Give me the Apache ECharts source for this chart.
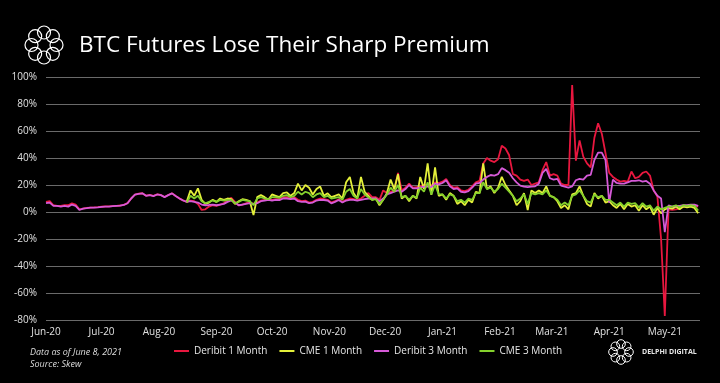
<!DOCTYPE html>
<html><head><meta charset="utf-8">
<script src="https://cdn.jsdelivr.net/npm/echarts@6/dist/echarts.min.js"></script>
<style>html,body{margin:0;padding:0;background:#000;}#c{width:720px;height:383px;}</style>
</head><body><div id="c"></div>
<script>
// x: one sample every 2 days starting 1 Jun 2020
const startYear = 2020, startMonth = 5, startDay = 1, stepDays = 2;
const endDayOffset = 353;
const cmeStartIndex = 38; // CME series begin at the 39th sample
const monthNames = ['Jan','Feb','Mar','Apr','May','Jun','Jul','Aug','Sep','Oct','Nov','Dec'];
const seriesNames = ['Deribit 1 Month','CME 1 Month','Deribit 3 Month','CME 3 Month'];
const yMin = -80, yMax = 100, yStep = 20;

const deribit1m = [
 7.5, 8, 5, 4.5, 4.5, 5, 5, 6.5, 5.5, 2,
 2.5, 3, 3.3, 3.4, 3.6, 3.9, 4.1, 4.1, 4.4, 4.6,
 4.8, 5.3, 6.6, 10.1, 12.9, 13.6, 13.9, 12.1, 12.6, 11.9,
 13.1, 12.6, 11.1, 12.6, 13.9, 11.9, 10.1, 8.6, 7.5, 8.5,
 8, 6, 1.5, 2, 4, 5, 4.5, 5.5, 6.5, 9,
 10.5, 7.5, 5, 5.5, 6.5, 7, 6, 7, 8.5, 9,
 9.5, 9, 9.5, 9.5, 11, 11, 10, 11, 9, 8,
 8.5, 7, 7.5, 9, 10, 9.5, 9, 7, 8, 9.5,
 7.5, 9, 10, 9.5, 9, 10, 12, 14, 11, 11,
 9, 16, 14, 15, 16, 29, 16, 18, 21, 18,
 18.5, 19, 20, 20, 19.5, 22, 21.5, 22.5, 24.5, 20,
 18, 18.5, 16, 15.5, 16.5, 19, 22, 23, 36, 40,
 38, 37, 39, 49, 47, 42, 28, 27, 24, 23,
 24, 20, 21, 22, 31, 37, 27, 28, 27, 21,
 20, 20, 94, 38, 53, 41, 36, 33, 55, 65.7,
 58, 43.5, 29, 26, 24, 22.5, 23, 22.5, 30, 25,
 26, 29, 30, 27, 16, 11.5, -20, -77, 2, 1.5,
 2, 2.5, 4, 4.5, 5, 5, 4
];
const deribit3m = [
 6.5, 7, 4.5, 4.5, 4, 4.5, 4, 5.5, 4.5, 1.5,
 2.5, 2.8, 3.2, 3.3, 3.5, 3.8, 4, 4, 4.3, 4.5,
 4.7, 5.2, 6.5, 10, 12.8, 13.5, 13.8, 12, 12.5, 11.8,
 13, 12.5, 11, 12.5, 13.8, 11.8, 10, 8.5, 7.5, 8,
 7.5, 7, 5.5, 5, 5.2, 5.5, 5, 5.5, 6, 7.5,
 8.5, 7, 5, 5.5, 6, 6.5, 6, 6.5, 8, 8.5,
 9, 8.5, 9, 8.8, 10, 10, 9.5, 10, 8, 7.5,
 7.7, 6.5, 7, 8.5, 9, 8.9, 8.5, 6.4, 7.5, 8.9,
 7, 8.5, 9, 9, 8.5, 9, 9.5, 10, 10, 10,
 8, 10, 13, 14, 15, 16, 15, 17, 20, 17.5,
 17.5, 18, 18.8, 19, 18.5, 21, 20.5, 21.5, 23.5, 19,
 17, 17.5, 15, 14.5, 15.5, 18, 21, 21.5, 24, 26,
 27.4, 27, 28, 32.5, 31, 29, 25, 22, 19.5, 18.8,
 18.5, 18.8, 19, 21, 29, 32, 25, 24, 24.5, 19.5,
 18.8, 18, 19, 23.5, 24.5, 24, 27, 27.5, 38.5, 44,
 44, 38.5, 7, 24, 21.5, 21, 21, 22, 23, 23,
 23.5, 22.5, 23, 21, 16, 12, 10, -15, 5, 4,
 4.5, 4.5, 5, 5, 5.5, 5.5, 4.5
];
const cme1m = [
 8, 16, 12, 17.5, 9, 6, 7, 9, 7.5, 10,
 9, 10, 9.5, 6, 8, 9.5, 9, 8, -2.2, 11,
 12.6, 11, 9, 13, 12, 11, 14, 14.5, 12, 14,
 21, 16, 20, 18, 13, 17, 18.8, 12, 13.8, 11,
 12, 13, 10, 22, 26, 14, 10, 26, 15, 12,
 9, 10, 5, 9, 14, 24, 17, 28, 10, 12,
 8, 12, 10, 26, 17, 36, 12.6, 33, 12, 13,
 9, 14, 12, 6, 8, 5, 9, 7, 15, 14,
 36, 17, 19, 14, 18, 26, 20, 16, 12, 5,
 8, 14, 1.5, 16, 14, 16, 14, 19, 12, 11,
 8, 3, 5, 2, 13, 14, 19, 12, 6, 4,
 14, 10, 12, 7, 8, 5, 3, 6, 2, 6,
 4, 5, 1, 5, 2, 4, -2, 3, -1, 2,
 3, 2.5, 4, 2, 4, 3.5, 4, 3, -1
];
const cme3m = [
 7, 12, 10, 12, 8, 6.5, 7.5, 8.5, 7.5, 9,
 8.5, 9, 9, 6.5, 7.5, 9, 8.5, 8, 5, 10,
 11, 10, 9.5, 11, 11, 10.5, 12, 12.5, 11, 12,
 15, 13, 15, 14, 11, 13, 14, 11, 12, 10,
 10.5, 11, 9, 15, 17, 12, 10, 17, 13, 11,
 9, 9.5, 6, 9, 13, 18, 15, 20, 11, 12,
 9, 12, 10.5, 18, 15, 22, 13, 20, 13, 13,
 10, 13, 12, 8, 9, 7, 10, 9, 14, 14,
 22, 17, 18, 15, 17, 21, 18, 15, 12, 8,
 10, 13, 6, 14, 13, 14, 13, 16, 12, 11,
 9, 5, 7, 5, 12, 13, 16, 12, 8, 7,
 13, 11, 12, 9, 9, 7, 5, 7, 4, 7,
 6, 6.5, 3.5, 6.5, 4, 5, 1, 4, 2, 3,
 4, 4, 5, 3.5, 5, 4.5, 5, 4.5, 1
];

function dateAt(i) { return new Date(startYear, startMonth, startDay + i * stepDays).getTime(); }
function pairs(arr, offset) { return arr.map((v, i) => [dateAt(i + offset), v]); }

const colors = ['#e8173f', '#e4f03a', '#d65ad8', '#84d12c'];
const font = '"Open Sans", "Liberation Sans", sans-serif';

function logo(cx, cy, ringR, r, lw) {
  const els = [];
  for (let k = 0; k < 8; k++) {
    const a = k * Math.PI / 4;
    els.push({ type: 'circle', silent: true,
      shape: { cx: cx + ringR * Math.cos(a), cy: cy + ringR * Math.sin(a), r: r },
      style: { fill: 'none', stroke: '#ffffff', lineWidth: lw } });
  }
  return els;
}

const chart = echarts.init(document.getElementById('c'));
chart.setOption({
  backgroundColor: '#000',
  animation: false,
  color: colors,
  grid: { left: 46, right: 20, top: 77, bottom: 63 },
  legend: {
    data: seriesNames, left: 174, top: 346, padding: 0, itemWidth: 15, itemHeight: 2, itemGap: 12,
    icon: 'rect', textStyle: { color: '#e6e6e6', fontSize: 10, fontFamily: font }
  },
  xAxis: {
    type: 'time',
    min: dateAt(0), max: new Date(startYear, startMonth, startDay + endDayOffset).getTime(),
    splitNumber: 12, minInterval: 28 * 86400000, maxInterval: 31 * 86400000,
    axisLine: { show: false }, axisTick: { show: false }, splitLine: { show: false },
    axisLabel: {
      color: '#e0e0e0', fontSize: 10, fontFamily: font, margin: 7, hideOverlap: false,
      formatter: function (v) { const d = new Date(v); return monthNames[d.getMonth()] + '-' + String(d.getFullYear()).slice(2); }
    }
  },
  yAxis: {
    type: 'value', min: yMin, max: yMax, interval: yStep,
    axisLine: { show: false }, axisTick: { show: false },
    splitLine: { lineStyle: { color: '#6a6a6a', width: 1 } },
    axisLabel: { color: '#e0e0e0', fontSize: 10, fontFamily: font, margin: 9, formatter: '{value}%' }
  },
  series: [
    { name: seriesNames[0], type: 'line', showSymbol: false, symbol: 'none', data: pairs(deribit1m, 0), lineStyle: { width: 1.8 } },
    { name: seriesNames[1], type: 'line', showSymbol: false, symbol: 'none', data: pairs(cme1m, cmeStartIndex), lineStyle: { width: 1.8 } },
    { name: seriesNames[2], type: 'line', showSymbol: false, symbol: 'none', data: pairs(deribit3m, 0), lineStyle: { width: 1.8 } },
    { name: seriesNames[3], type: 'line', showSymbol: false, symbol: 'none', data: pairs(cme3m, cmeStartIndex), lineStyle: { width: 1.8 } }
  ],
  graphic: [
    ...logo(44, 45, 12.5, 6.5, 1.2),
    { type: 'text', silent: true, style: { x: 79, y: 46, text: 'BTC Futures Lose Their Sharp Premium', fill: '#ffffff', font: '22.5px ' + font, verticalAlign: 'middle' } },
    { type: 'text', silent: true, style: { x: 30, y: 352, text: 'Data as of June 8, 2021', fill: '#dcdcdc', font: 'italic 9px ' + font, verticalAlign: 'middle' } },
    { type: 'text', silent: true, style: { x: 30, y: 364, text: 'Source: Skew', fill: '#dcdcdc', font: 'italic 9px ' + font, verticalAlign: 'middle' } },
    ...logo(621, 352, 8, 4.3, 1),
    { type: 'text', silent: true, style: { x: 642, y: 352, text: 'DELPHI DIGITAL', fill: '#e6e6e6', font: 'bold 7px ' + font, verticalAlign: 'middle' } }
  ]
});
</script></body></html>
